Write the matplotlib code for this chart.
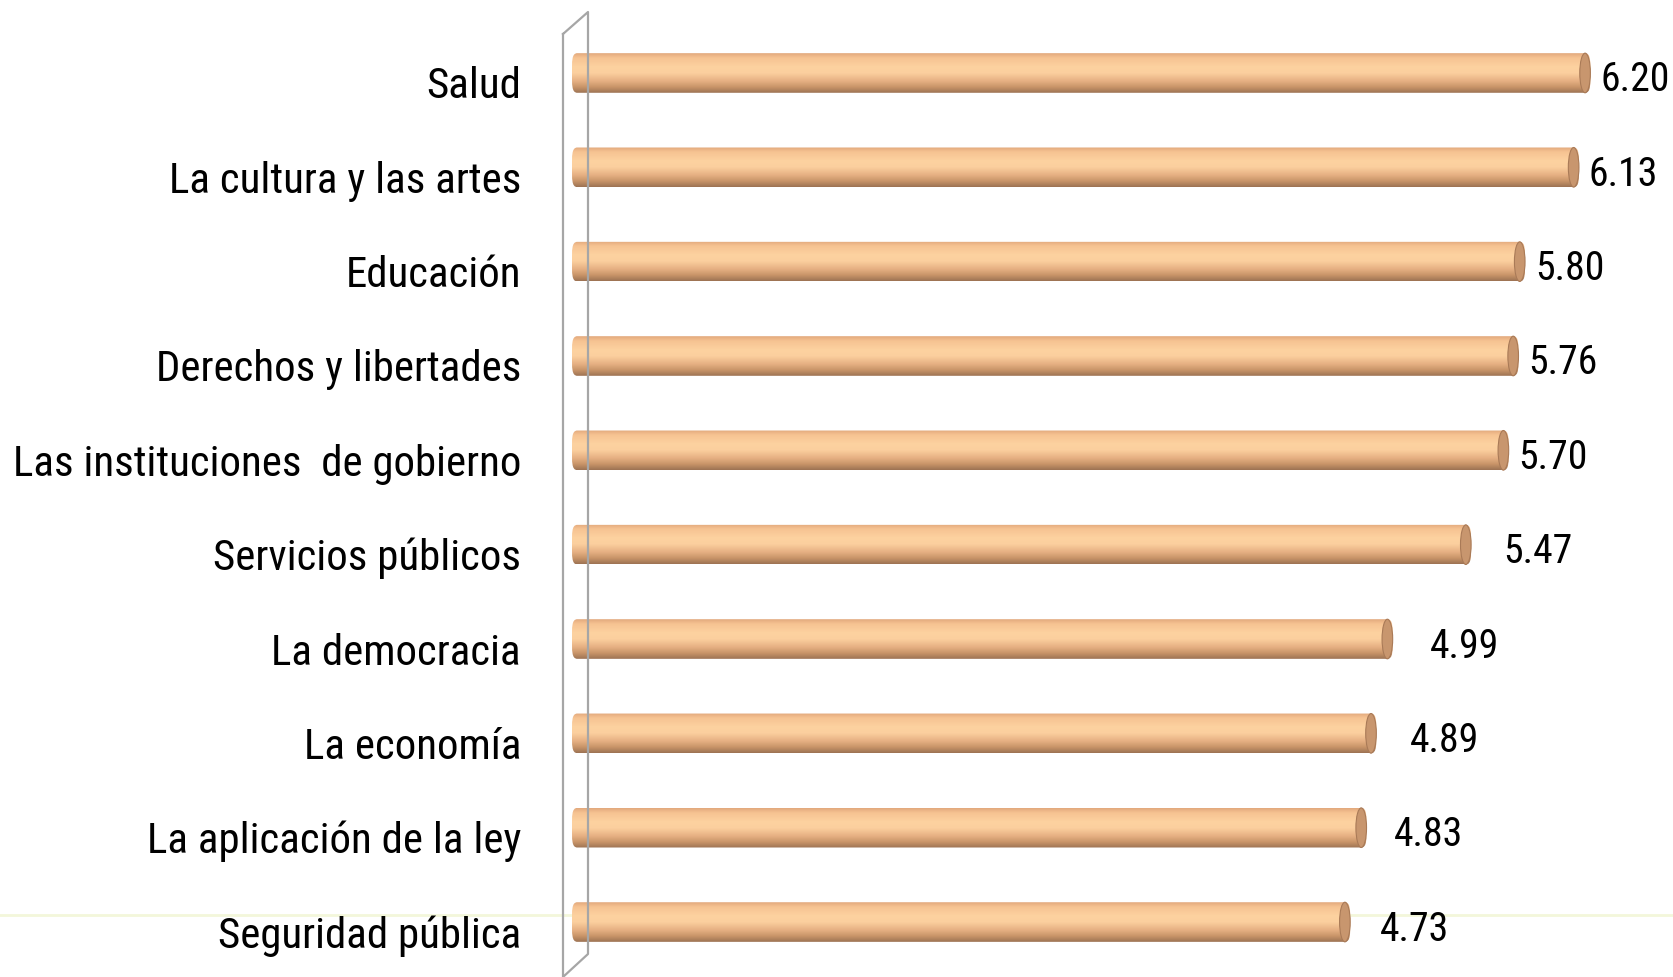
import numpy as np
import matplotlib
matplotlib.use("Agg")
import matplotlib.pyplot as plt
from matplotlib.path import Path
from matplotlib.patches import PathPatch, Ellipse
from matplotlib.lines import Line2D
import matplotlib.transforms as mtransforms
from matplotlib.colors import LinearSegmentedColormap
from matplotlib import font_manager
from matplotlib.font_manager import FontProperties

categories = ["Salud", "La cultura y las artes", "Educación", "Derechos y libertades",
              "Las instituciones  de gobierno", "Servicios públicos", "La democracia",
              "La economía", "La aplicación de la ley", "Seguridad pública"]
values = [6.20, 6.13, 5.80, 5.76, 5.70, 5.47, 4.99, 4.89, 4.83, 4.73]
value_labels = ["6.20", "6.13", "5.80", "5.76", "5.70", "5.47", "4.99", "4.89", "4.83", "4.73"]

# label horizontal gaps (pixels) after bar end, as in the reference
label_gap_px = [10, 10, 10, 10, 10, 32, 37, 34, 27, 30]

# pick a condensed font if one is installed
cands = []
for f in font_manager.fontManager.ttflist:
    nm = f.fname.lower()
    if f.style != "normal" or f.weight not in (400, "normal", "regular"):
        continue
    if "narrow" in nm or "condensed" in nm or f.stretch in ("condensed", "semi-condensed"):
        if "semi" in nm or "extra" in nm or "ultra" in nm:
            continue
        cands.append(f.fname)
pref = ["liberationsansnarrow-regular", "robotocondensed-regular", "notosans-condensed.",
        "opensans_condensed-regular", "dejavusanscondensed.", "lato"]
chosen = None
for p in pref:
    for c in cands:
        if p in c.lower().replace(" ", "").split("/")[-1]:
            chosen = c
            break
    if chosen:
        break
if chosen is None and cands:
    chosen = cands[0]
if chosen:
    base_fp = FontProperties(fname=chosen)
else:
    base_fp = FontProperties(family=["Liberation Sans", "DejaVu Sans"])

W, H = 1673, 978
fig = plt.figure(figsize=(W / 100, H / 100), dpi=100)
fig.patch.set_facecolor("white")
renderer = fig.canvas.get_renderer()


def fit_size(txt, target_px, ref=30):
    t = fig.text(0, 0, txt, fontproperties=base_fp, fontsize=ref)
    w = t.get_window_extent(renderer).width
    t.remove()
    return ref * target_px / w


cat_fs = fit_size("Las instituciones  de gobierno", 508)
val_fs = fit_size("6.20", 69)

# axes: x=0 at 572 px, 163.4 px/unit ; bar centers from y=74 to 923
x0_px = 572
ppu = 163.4
xmax = 6.6
top_px, bot_px = 74 - 47.2, 923 + 47.2
ax = fig.add_axes([x0_px / W, 1 - bot_px / H, xmax * ppu / W, (bot_px - top_px) / H])
ax.set_xlim(0, xmax)
n = len(categories)
ax.set_ylim(n - 0.5, -0.5)
ax.axis("off")

# faint background line & 3D wall (figure coords)
fig.add_artist(Line2D([0, 1], [1 - 916 / H, 1 - 916 / H], transform=fig.transFigure,
                      color="#f3f7da", lw=2, zorder=0))
wall_x = [563, 588, 588, 563, 563]
wall_y = [35, 13, 955, 978, 35]
fig.add_artist(Line2D([x / W for x in wall_x], [1 - y / H for y in wall_y],
                      transform=fig.transFigure, color="#a6a6a6", lw=1.6, zorder=0.5))

# gradient for cylinder
cmap = LinearSegmentedColormap.from_list("cyl", [
    (0.0, "#e2a87c"), (0.12, "#f6c392"), (0.35, "#fdd2a0"), (0.5, "#fbcf9e"),
    (0.7, "#e6b083"), (0.85, "#c99569"), (1.0, "#9c7253")])
grad = np.linspace(0, 1, 256).reshape(-1, 1)

bh = 0.42
cap_w = 0.065
for i, v in enumerate(values):
    y0, y1 = i - bh / 2, i + bh / 2
    k = 0.5523
    rx = cap_w / 2
    ry = bh / 2
    verts = [(rx, y0), (v, y0),
             (v + rx * k * 2, y0), (v + rx, i - ry * k), (v + rx, i),
             (v + rx, i + ry * k), (v + rx * k * 2, y1), (v, y1),
             (rx, y1),
             (rx - rx * 2 * k, y1), (0, i + ry * k), (0, i),
             (0, i - ry * k), (rx - rx * 2 * k, y0), (rx, y0), (rx, y0)]
    codes = [Path.MOVETO, Path.LINETO,
             Path.CURVE4, Path.CURVE4, Path.CURVE4,
             Path.CURVE4, Path.CURVE4, Path.CURVE4,
             Path.LINETO,
             Path.CURVE4, Path.CURVE4, Path.CURVE4,
             Path.CURVE4, Path.CURVE4, Path.CURVE4, Path.CLOSEPOLY]
    path = Path(verts, codes)
    patch = PathPatch(path, facecolor="none", edgecolor="none", zorder=2)
    ax.add_patch(patch)
    im = ax.imshow(grad, cmap=cmap, aspect="auto", extent=(0, v + rx, y1, y0),
                   zorder=2, interpolation="bilinear")
    im.set_clip_path(patch)
    cap = Ellipse((v, i), cap_w, bh, facecolor="#c8966e", edgecolor="#a97a57",
                  lw=0.8, zorder=3)
    ax.add_patch(cap)
    off = mtransforms.ScaledTranslation((label_gap_px[i]) / 100, -6 / 100, fig.dpi_scale_trans)
    ax.text(v + rx, i, value_labels[i], ha="left", va="center", fontproperties=base_fp,
            fontsize=val_fs, color="black", transform=ax.transData + off, zorder=4)
    off2 = mtransforms.ScaledTranslation(-51 / 100, -13 / 100, fig.dpi_scale_trans)
    ax.text(0, i, categories[i], ha="right", va="center", fontproperties=base_fp,
            fontsize=cat_fs, color="black", transform=ax.transData + off2, zorder=4)

fig.savefig("out.png", dpi=100, facecolor="white")
